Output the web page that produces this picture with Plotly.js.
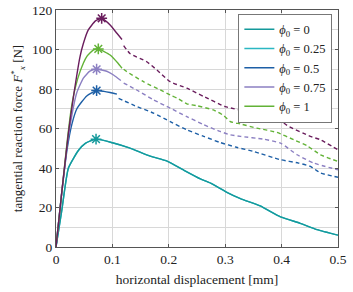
<!DOCTYPE html>
<html>
<head>
<meta charset="utf-8">
<script src="https://cdn.plot.ly/plotly-3.0.1.min.js"></script>
<style>html,body{margin:0;padding:0;background:#fff;}#chart{width:353px;height:292px;}</style>
</head>
<body>
<div id="chart"></div>
<script>
// phi0 = 0 and 0.25 (overlapping teal curve)
var tealX = [0, 0.01, 0.022, 0.04, 0.052, 0.071, 0.1, 0.13, 0.167, 0.197, 0.226, 0.256, 0.274, 0.303, 0.327, 0.362, 0.398, 0.433, 0.463, 0.5];
var tealY = [0, 18, 40, 49, 52.5, 54.6, 52.8, 50.2, 46, 43.5, 39, 34.5, 32.4, 27.7, 24.5, 20.8, 15.3, 12, 8.8, 6.0];
var tealPeak = [0.071, 54.6];

// phi0 = 0.5
var blueSolidX = [0, 0.01, 0.02, 0.028, 0.037, 0.0545, 0.072, 0.085, 0.096, 0.108];
var blueSolidY = [0, 27, 50, 62, 70, 76.5, 79.2, 78.8, 78.2, 77.4];
var blueDashX = [0.111, 0.14, 0.173, 0.2025, 0.232, 0.262, 0.291, 0.32, 0.35, 0.398, 0.43, 0.451, 0.469, 0.5];
var blueDashY = [75.3, 71.5, 67.8, 63.5, 59.3, 56, 52.9, 50.5, 48.4, 44.2, 42.5, 40.8, 37.5, 35.3];
var bluePeak = [0.072, 79.2];

// phi0 = 0.75
var lavSolidX = [0, 0.01, 0.02, 0.031, 0.0367, 0.0485, 0.06, 0.072, 0.09, 0.102, 0.115];
var lavSolidY = [0, 27, 52, 71, 78, 85.5, 89, 90, 89, 87.1, 84.3];
var lavDashX = [0.12, 0.143, 0.173, 0.2025, 0.232, 0.262, 0.291, 0.309, 0.327, 0.368, 0.398, 0.4275, 0.457, 0.5];
var lavDashY = [83, 79.5, 74.5, 70.3, 66, 61.9, 58.5, 56.8, 56, 54.6, 52.6, 46.7, 42.5, 39.1];
var lavPeak = [0.072, 90];

// phi0 = 1
var greenSolidX = [0, 0.01, 0.02, 0.027, 0.034, 0.0426, 0.0545, 0.066, 0.075, 0.096, 0.11, 0.117];
var greenSolidY = [0, 27, 54, 70, 80.4, 88.8, 96.4, 99.7, 100.3, 97.2, 93, 90.5];
var greenDashX = [0.12, 0.1255, 0.155, 0.185, 0.2025, 0.214, 0.232, 0.25, 0.279, 0.297, 0.309, 0.327, 0.356, 0.392, 0.4215, 0.445, 0.469, 0.5];
var greenDashY = [90, 88.8, 83.7, 79.5, 77, 75.5, 72.5, 71.5, 69.4, 66.6, 63.5, 62.3, 60.2, 58, 54.3, 51.3, 46.7, 43.3];
var greenPeak = [0.075, 100.3];

// unlabelled purple curve
var purpSolidX = [0, 0.01, 0.022, 0.031, 0.0426, 0.0485, 0.057, 0.07, 0.081, 0.096, 0.108, 0.117];
var purpSolidY = [0, 27, 57.7, 76.2, 96.4, 103, 109.8, 114.5, 115.8, 112.4, 108.2, 105.1];
var purpDashX = [0.12, 0.131, 0.161, 0.179, 0.2025, 0.232, 0.262, 0.3, 0.345, 0.386, 0.41, 0.451, 0.469, 0.5];
var purpDashY = [102, 98, 93.8, 89.6, 83.7, 80.4, 76.2, 71.1, 68.3, 66.5, 61.5, 56, 54.3, 49.2];
var purpPeak = [0.081, 115.8];

var legendNames = ['<i>ϕ</i><sub>0</sub> = 0', '<i>ϕ</i><sub>0</sub> = 0.25', '<i>ϕ</i><sub>0</sub> = 0.5', '<i>ϕ</i><sub>0</sub> = 0.75', '<i>ϕ</i><sub>0</sub> = 1'];
var xTicks = [0, 0.1, 0.2, 0.3, 0.4, 0.5];
var xTickText = ['0', '0.1', '0.2', '0.3', '0.4', '0.5'];

var C = {t0: '#14999b', t25: '#2bb7c2', blue: '#1d5fa6', lav: '#8b7fc2', green: '#62b236', purp: '#6a1d5d'};
var LW = 1.4;
var dash = '4px,3px';

function line(x, y, color, d, name, show) {
  return {x: x, y: y, type: 'scatter', mode: 'lines',
          line: {color: color, width: LW, dash: d || 'solid', shape: 'spline', smoothing: 0.5},
          name: name || '', showlegend: !!show, hoverinfo: 'skip'};
}
function star(p, color) {
  return {x: [p[0]], y: [p[1]], type: 'scatter', mode: 'markers', showlegend: false, hoverinfo: 'skip',
          marker: {symbol: 'asterisk-open', size: 9, color: color, line: {color: color, width: 1.5}}};
}

var traces = [
  line(tealX, tealY, C.t25, 'solid', legendNames[1], false),
  line(tealX, tealY, C.t0, 'solid', legendNames[0], true),
  {x: [null], y: [null], type: 'scatter', mode: 'lines', line: {color: C.t25, width: LW}, name: legendNames[1], showlegend: true},
  star(tealPeak, C.t0),
  line(blueSolidX, blueSolidY, C.blue, 'solid', legendNames[2], true),
  line(blueDashX, blueDashY, C.blue, dash),
  star(bluePeak, C.blue),
  line(lavSolidX, lavSolidY, C.lav, 'solid', legendNames[3], true),
  line(lavDashX, lavDashY, C.lav, dash),
  star(lavPeak, C.lav),
  line(greenSolidX, greenSolidY, C.green, 'solid', legendNames[4], true),
  line(greenDashX, greenDashY, C.green, dash),
  star(greenPeak, C.green),
  line(purpSolidX, purpSolidY, C.purp, 'solid'),
  line(purpDashX, purpDashY, C.purp, dash),
  star(purpPeak, C.purp)
];

var FF = 'Liberation Serif, DejaVu Serif, serif';
var font = {family: FF, size: 13.5, color: '#222'};
var layout = {
  width: 353, height: 292,
  margin: {l: 56, r: 15, t: 10, b: 45},
  paper_bgcolor: '#fff', plot_bgcolor: '#fff',
  font: font,
  showlegend: true,
  legend: {x: 0.98, xanchor: 'right', y: 0.985, yanchor: 'top', bgcolor: '#fff', bordercolor: '#777', borderwidth: 1,
           font: {family: FF, size: 12.5, color: '#222'}, tracegroupgap: 0, itemwidth: 30},
  xaxis: {range: [0, 0.5], tickvals: xTicks, ticktext: xTickText, showgrid: true, gridcolor: '#d8d8d8', gridwidth: 1,
          zeroline: false, showline: true, linecolor: '#555', linewidth: 1, mirror: 'ticks',
          ticks: 'inside', ticklen: 3, tickcolor: '#555',
          title: {text: 'horizontal displacement [mm]', font: {family: FF, size: 13.5, color: '#222'}, standoff: 8}},
  yaxis: {range: [0, 120], dtick: 20, showgrid: true, gridcolor: '#d8d8d8', gridwidth: 1,
          minor: {dtick: 10, showgrid: true, gridcolor: '#d8d8d8', gridwidth: 1},
          zeroline: false, showline: true, linecolor: '#555', linewidth: 1, mirror: 'ticks',
          ticks: 'inside', ticklen: 3, tickcolor: '#555',
          title: {text: 'tangential reaction force <i>F</i><sup>*</sup><sub><i>x</i></sub> [N]', font: {family: FF, size: 13, color: '#222'}, standoff: 6}}
};

Plotly.newPlot('chart', traces, layout, {staticPlot: true, displayModeBar: false});
</script>
</body>
</html>
